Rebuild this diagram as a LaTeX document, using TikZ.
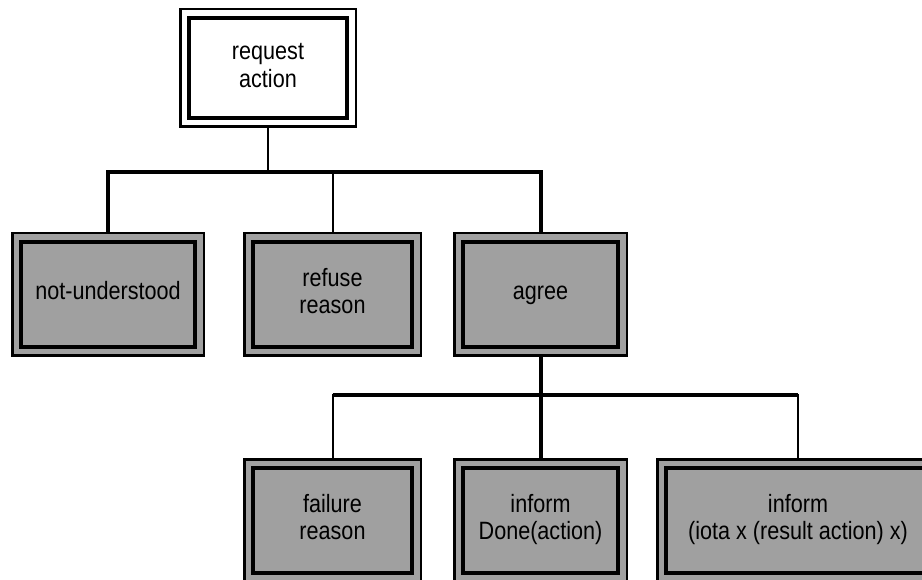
\documentclass[tikz,border=0pt]{standalone}
\usepackage{fontspec}
\usepackage{graphicx}
\usetikzlibrary{backgrounds}
\setmainfont{Liberation Sans}
\definecolor{boxgray}{HTML}{A0A0A0}
% Two-line labels, slightly tall type
\newcommand{\lbl}[1]{\raisebox{-3.5pt}{\scalebox{1}[1.16]{\begin{tabular}{@{}c@{}}#1\end{tabular}}}}
\tikzset{
  msgbox/.style={
    draw=black, line width=2.5pt, fill=boxgray, rectangle,
    inner sep=0pt, outer sep=0pt,
    font=\fontsize{21.6}{23.5}\selectfont,
    path picture={
      \draw[line width=4pt]
        ([shift={(9pt,-9pt)}]path picture bounding box.north west)
        rectangle
        ([shift={(-9pt,9pt)}]path picture bounding box.south east);
    }
  },
  rootbox/.style={msgbox, fill=white},
  thinline/.style={line width=2pt},
  thickline/.style={line width=4pt}
}
\begin{document}
\begin{tikzpicture}[x=1pt, y=-1pt]
  \useasboundingbox (0,0) rectangle (922,580);
  \clip (0,0) rectangle (922,580);

  % junctions of the two horizontal buses
  \coordinate (j1) at (268,172);
  \coordinate (j2) at (540.5,395);

  % nodes
  \node[rootbox, minimum width=175.5pt, minimum height=117.5pt] (req) at (268,68)
    {\lbl{request\\action}};
  \node[msgbox, minimum width=191.5pt, minimum height=122.5pt] (nu) at (108,294.5)
    {\lbl{not-understood}};
  \node[msgbox, minimum width=176.5pt, minimum height=122.5pt] (ref) at (332.5,294.5)
    {\lbl{refuse\\reason}};
  \node[msgbox, minimum width=172.5pt, minimum height=122.5pt] (agree) at (540.5,294.5)
    {\lbl{agree}};
  \node[msgbox, minimum width=176.5pt, minimum height=122.5pt] (fail) at (332.5,520.5)
    {\lbl{failure\\reason}};
  \node[msgbox, minimum width=172.5pt, minimum height=122.5pt] (done) at (540.5,520.5)
    {\lbl{inform\\Done(action)}};
  \node[msgbox, minimum width=281.5pt, minimum height=122.5pt] (iota) at (798,520.5)
    {\lbl{inform\\(iota x (result action) x)}};

  % connectors, behind the boxes
  \begin{scope}[on background layer]
    \draw[thinline] (req.south) -- (j1);
    \draw[thickline] (nu.north) |- (j1) -| (agree.north);
    \draw[thinline] (ref.north) -- (ref.north |- j1);
    \draw[thickline] (agree.south) -- (done.north);
    \draw[thinline] (fail.north) |- (j2);
    \draw[thinline] (iota.north) |- (j2);
    \draw[thickline] (fail.north |- j2) -- (iota.north |- j2);
  \end{scope}
\end{tikzpicture}
\end{document}
